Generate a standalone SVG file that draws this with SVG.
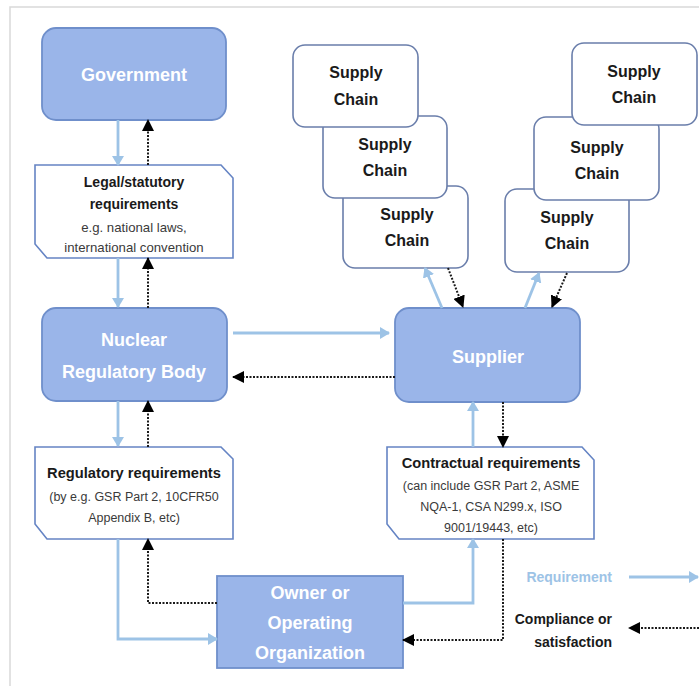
<svg xmlns="http://www.w3.org/2000/svg" width="699" height="686" viewBox="0 0 699 686">
<style>
.frame{stroke:#d9d9d9;stroke-width:1.5;fill:none}
.main{fill:#9ab5e9;stroke:#6f8fcb;stroke-width:1.8}
.snip{fill:#ffffff;stroke:#6584c4;stroke-width:1.6}
.sc{fill:#ffffff;stroke:#6a7eab;stroke-width:1.6}
.req{fill:none;stroke:#9dc3e6;stroke-width:2.8}
.cmp{fill:none;stroke:#1a1a1a;stroke-width:2;stroke-dasharray:2 1.5}
text{font-family:"Liberation Sans",Arial,sans-serif;text-anchor:middle}
.wt{fill:#ffffff;font-size:18px;font-weight:bold}
.hd{fill:#1a1a1a;font-size:14px;font-weight:bold}
.hd2{fill:#1a1a1a;font-size:14.7px;font-weight:bold}
.sm{fill:#3a3a3a;font-size:12.5px}
.sm2{fill:#3a3a3a;font-size:13.2px}
.sct{fill:#1a1a1a;font-size:16px;font-weight:bold}
</style>
<defs>
<marker id="ab" viewBox="0 0 10 12" markerWidth="10" markerHeight="12" refX="9" refY="6" orient="auto" markerUnits="userSpaceOnUse"><path d="M0,0 L10,6 L0,12 z" fill="#9dc3e6"/></marker>
<marker id="ak" viewBox="0 0 12 12" markerWidth="12" markerHeight="12" refX="11" refY="6" orient="auto" markerUnits="userSpaceOnUse"><path d="M0,0 L12,6 L0,12 z" fill="#000000"/></marker>
</defs>
<path class="frame" d="M10,686 V7 H699"/>

<g id="government"><rect class="main" x="42" y="28" width="184" height="92" rx="14"/><text class="wt" x="134" y="81">Government</text></g>
<g id="legal"><polygon class="snip" points="35,165 221,165 233,178 233,258 47,258 35,244"/>
<text class="hd" x="134" y="187">Legal/statutory</text><text class="hd" x="134" y="209">requirements</text>
<text class="sm2" x="134" y="232">e.g. national laws,</text><text class="sm2" x="134" y="252">international convention</text></g>
<g id="nuclear"><rect class="main" x="42" y="308" width="185" height="93" rx="14"/><text class="wt" x="134" y="346">Nuclear</text><text class="wt" x="134" y="378">Regulatory Body</text></g>
<g id="regulatory"><polygon class="snip" points="35,447 221,447 233,459 233,539 47,539 35,524"/>
<text class="hd2" x="134" y="478">Regulatory requirements</text>
<text class="sm" x="134" y="501">(by e.g. GSR Part 2, 10CFR50</text><text class="sm" x="134" y="522">Appendix B, etc)</text></g>
<g id="owner"><rect class="main" x="217" y="576" width="186" height="92"/><text class="wt" x="310" y="599">Owner or</text><text class="wt" x="310" y="629">Operating</text><text class="wt" x="310" y="659">Organization</text></g>
<g id="supplier"><rect class="main" x="395" y="308" width="185" height="94" rx="14"/><text class="wt" x="488" y="363">Supplier</text></g>
<g id="contractual"><polygon class="snip" points="387,447 582,447 594,460 594,539 399,539 387,524"/>
<text class="hd2" x="491" y="468">Contractual requirements</text>
<text class="sm" x="491" y="490">(can include GSR Part 2, ASME</text><text class="sm" x="491" y="511">NQA-1, CSA N299.x, ISO</text><text class="sm" x="491" y="532">9001/19443, etc)</text></g>

<g id="sc-left-3"><rect class="sc" x="343" y="186" width="125" height="82" rx="12"/><text class="sct" x="407" y="220">Supply</text><text class="sct" x="407" y="246">Chain</text></g>
<g id="sc-left-2"><rect class="sc" x="323" y="116" width="124" height="82" rx="12"/><text class="sct" x="385" y="150">Supply</text><text class="sct" x="385" y="176">Chain</text></g>
<g id="sc-left-1"><rect class="sc" x="293" y="45" width="125" height="82" rx="12"/><text class="sct" x="356" y="78">Supply</text><text class="sct" x="356" y="105">Chain</text></g>
<g id="sc-right-3"><rect class="sc" x="505" y="189" width="124" height="83" rx="12"/><text class="sct" x="567" y="223">Supply</text><text class="sct" x="567" y="249">Chain</text></g>
<g id="sc-right-2"><rect class="sc" x="534" y="117" width="125" height="83" rx="12"/><text class="sct" x="597" y="153">Supply</text><text class="sct" x="597" y="179">Chain</text></g>
<g id="sc-right-1"><rect class="sc" x="572" y="43" width="125" height="82" rx="12"/><text class="sct" x="634" y="77">Supply</text><text class="sct" x="634" y="103">Chain</text></g>

<g id="legend">
<text x="612" y="582" style="text-anchor:end;fill:#9dc3e6;font-size:14px;font-weight:bold">Requirement</text>
<text x="612" y="624" style="text-anchor:end;fill:#1a1a1a;font-size:14px;font-weight:bold">Compliance or</text>
<text x="612" y="647" style="text-anchor:end;fill:#1a1a1a;font-size:14px;font-weight:bold">satisfaction</text>
</g>

<g id="connectors">
<path class="req" marker-end="url(#ab)" d="M118,120 V165"/>
<path class="cmp" marker-end="url(#ak)" d="M148,165 V120"/>
<path class="req" marker-end="url(#ab)" d="M118,258 V307"/>
<path class="cmp" marker-end="url(#ak)" d="M148,308 V258"/>
<path class="req" marker-end="url(#ab)" d="M118,401 V446"/>
<path class="cmp" marker-end="url(#ak)" d="M148,447 V401"/>
<path class="req" marker-end="url(#ab)" d="M118,539 V639 H217"/>
<path class="cmp" marker-end="url(#ak)" d="M217,603 H148 V539"/>
<path class="req" marker-end="url(#ab)" d="M233,333 H389"/>
<path class="cmp" marker-end="url(#ak)" d="M395,377 H233"/>
<path class="req" marker-end="url(#ab)" d="M403,603 H473 V539"/>
<path class="cmp" marker-end="url(#ak)" d="M503,539 V640 H403"/>
<path class="req" marker-end="url(#ab)" d="M473,447 V402"/>
<path class="cmp" marker-end="url(#ak)" d="M503,402 V447"/>
<path class="req" marker-end="url(#ab)" d="M442,308 L425,268"/>
<path class="cmp" marker-end="url(#ak)" d="M448,268 L463,307"/>
<path class="req" marker-end="url(#ab)" d="M525,308 L539,273"/>
<path class="cmp" marker-end="url(#ak)" d="M567,273 L552,307"/>
<path class="req" marker-end="url(#ab)" d="M629,577 H698"/>
<path class="cmp" marker-end="url(#ak)" d="M699,628 H629"/>
</g>
</svg>
